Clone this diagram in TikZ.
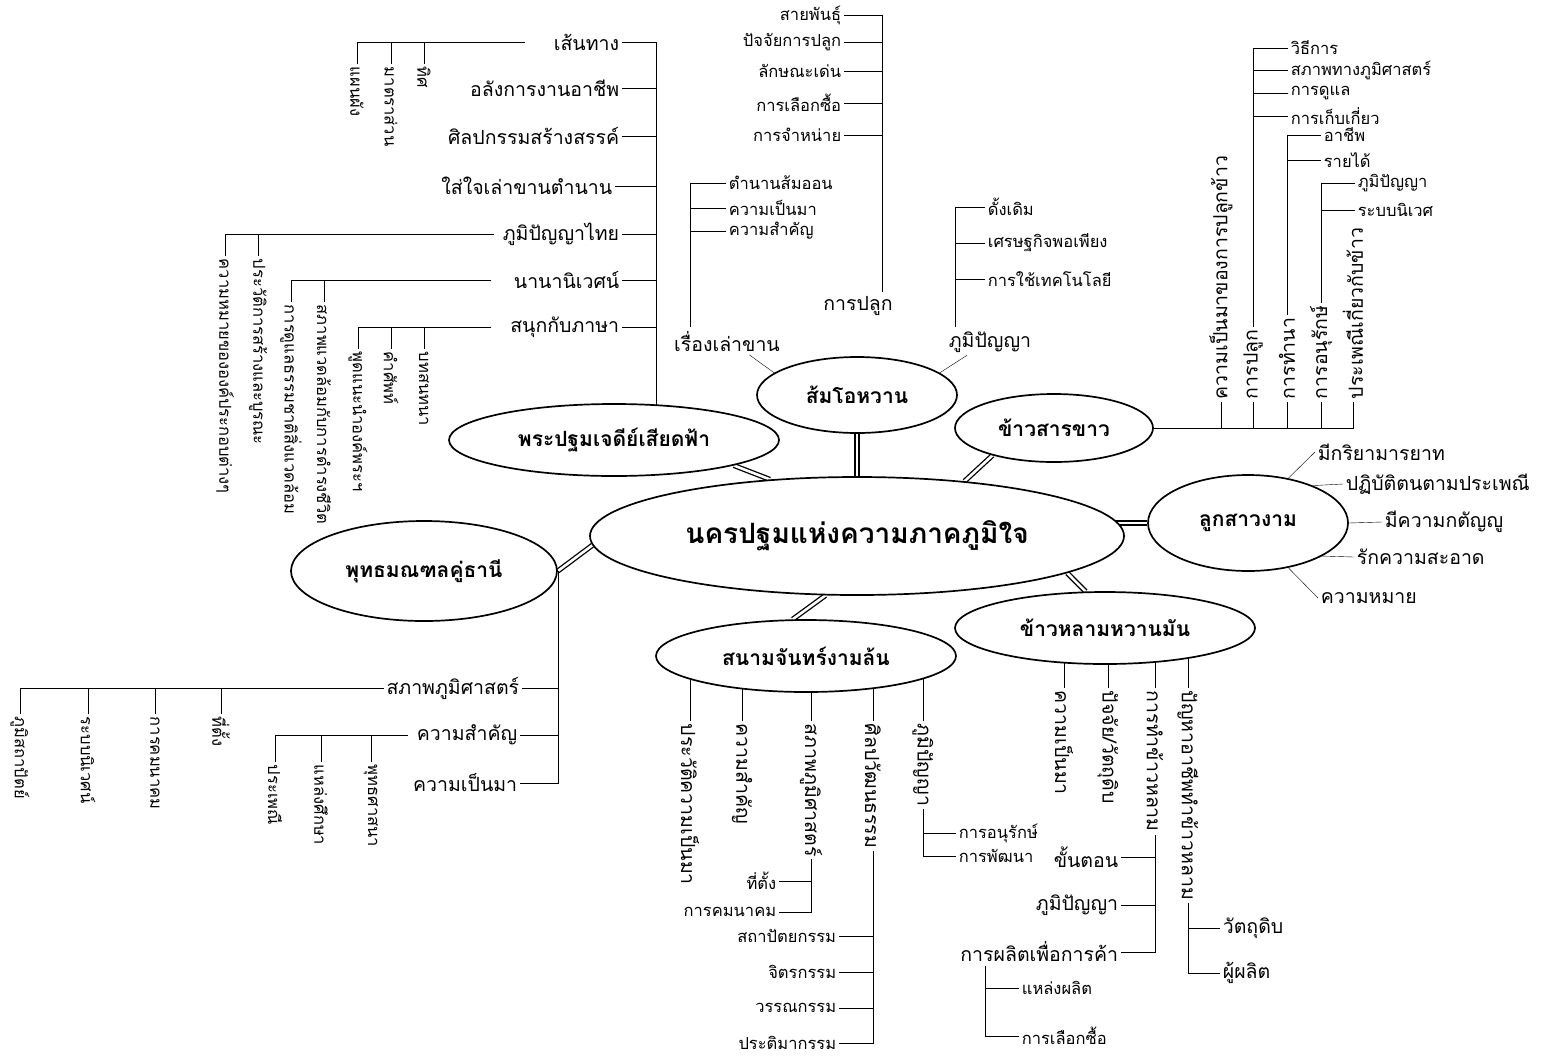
\documentclass[tikz,border=0pt]{standalone}
\usepackage{fontspec}
\setmainfont{Loma}[Script=Thai]
\usetikzlibrary{shapes.geometric}
\pgfdeclarelayer{bg}
\pgfsetlayers{bg,main}

\begin{document}
\begin{tikzpicture}[x=1pt,y=-1pt,line width=1.7pt,
  lbl/.style={font=\fontsize{19.5}{22}\selectfont, inner sep=2pt},
  sml/.style={font=\fontsize{16.5}{19}\selectfont, inner sep=2pt},
  dn/.style={rotate=-90, anchor=west},
  upw/.style={rotate=90, anchor=west},
  topic/.style={ellipse, draw, fill=white, inner sep=0pt,
    font=\fontsize{21}{24}\selectfont\bfseries},
  dbl/.style={double, double distance=2.6pt, line width=1.3pt}]
\useasboundingbox (0,0) rectangle (1546,1058);
% centre and slogan topics
\node[topic, minimum width=534pt, minimum height=118pt, font=\fontsize{28}{32}\selectfont\bfseries] at (857,536) (hub) {นครปฐมแห่งความภาคภูมิใจ};
\node[topic, minimum width=330pt, minimum height=72pt] at (614,440) (chedi) {พระปฐมเจดีย์เสียดฟ้า};
\node[topic, minimum width=200pt, minimum height=76pt] at (857,395) (somo) {ส้มโอหวาน};
\node[topic, minimum width=198pt, minimum height=68pt] at (1054,428) (khaosan) {ข้าวสารขาว};
\node[topic, minimum width=200pt, minimum height=96pt] at (1248,523) (luksao) {ลูกสาวงาม};
\node[topic, minimum width=300pt, minimum height=72pt] at (1105,628) (khaolam) {ข้าวหลามหวานมัน};
\node[topic, minimum width=300pt, minimum height=72pt] at (806,656) (sanam) {สนามจันทร์งามล้น};
\node[topic, minimum width=266pt, minimum height=100pt] at (424,571) (phuttha) {พุทธมณฑลคู่ธานี};

% พระปฐมเจดีย์
\coordinate (chedi-root) at (656,440);
\node[lbl, anchor=east] at (622,42) (sentang) {เส้นทาง};
\node[lbl, anchor=east] at (622,88) (alangkan) {อลังการงานอาชีพ};
\node[lbl, anchor=east] at (622,136) (sinlapa) {ศิลปกรรมสร้างสรรค์};
\node[lbl, anchor=east] at (615,186) (saijai) {ใส่ใจเล่าขานตำนาน};
\node[lbl, anchor=east] at (622,234) (phumithai) {ภูมิปัญญาไทย};
\node[lbl, anchor=east] at (622,280) (nana) {นานานิเวศน์};
\node[lbl, anchor=east] at (622,327) (sanuk) {สนุกกับภาษา};
\node[sml, dn] at (357,64) (phaenphang) {แผนผัง};
\node[sml, dn] at (391,64) (matra) {มาตราส่วน};
\node[sml, dn] at (424,64) (thit) {ทิศ};
\node[sml, dn] at (225,256) (khwammai) {ความหมายขององค์ประกอบต่างๆ};
\node[sml, dn] at (258,256) (prawat) {ประวัติการสร้างและบูรณะ};
\node[sml, dn] at (291,302) (dulae) {การดูแลธรรมชาติสิ่งแวดล้อม};
\node[sml, dn] at (324,302) (sapphaep) {สภาพแวดล้อมกับการดำรงชีวิต};
\node[sml, dn] at (358,349) (phut) {พูดแนะนำองค์พระฯ};
\node[sml, dn] at (391,349) (khamsap) {คำศัพท์};
\node[sml, dn] at (424,349) (bot) {บทสนทนา};

% ส้มโอหวาน
\node[lbl] at (858,306) (plook) {การปลูก};
\coordinate (plook-top) at (882,292);
\node[sml, anchor=east] at (844,15) (saiphan) {สายพันธุ์};
\node[sml, anchor=east] at (844,42) (patjai) {ปัจจัยการปลูก};
\node[sml, anchor=east] at (844,71) (laksana) {ลักษณะเด่น};
\node[sml, anchor=east] at (844,103) (lueaksue) {การเลือกซื้อ};
\node[sml, anchor=east] at (844,135) (jamnai) {การจำหน่าย};
\node[lbl] at (727,342) (rueang) {เรื่องเล่าขาน};
\coordinate (rueang-top) at (690,327);
\node[sml, anchor=west] at (726,183) (tamnan) {ตำนานส้มออน};
\node[sml, anchor=west] at (726,208) (penma) {ความเป็นมา};
\node[sml, anchor=west] at (726,231) (samkhan) {ความสำคัญ};
\node[lbl] at (990,342) (somphumi) {ภูมิปัญญา};
\coordinate (somphumi-top) at (955,327);
\node[sml, anchor=west] at (985,207) (dangdoem) {ดั้งเดิม};
\node[sml, anchor=west] at (985,243) (setthakit) {เศรษฐกิจพอเพียง};
\node[sml, anchor=west] at (985,279) (technology) {การใช้เทคโนโลยี};

% ข้าวสารขาว
\node[lbl, upw] at (1221,402) (kpenma) {ความเป็นมาของการปลูกข้าว};
\node[lbl, upw] at (1253,402) (kplook) {การปลูก};
\node[lbl, upw] at (1287,402) (ktamna) {การทำนา};
\node[lbl, upw] at (1321,402) (kanurak) {การอนุรักษ์};
\node[lbl, upw] at (1353,402) (kprapheni) {ประเพณีเกี่ยวกับข้าว};
\node[sml, anchor=west] at (1288,48) (withikan) {วิธีการ};
\node[sml, anchor=west] at (1288,70) (phumisat) {สภาพทางภูมิศาสตร์};
\node[sml, anchor=west] at (1288,93) (kandulae) {การดูแล};
\node[sml, anchor=west] at (1288,116) (kepkiao) {การเก็บเกี่ยว};
\node[sml, anchor=west] at (1321,135) (achip) {อาชีพ};
\node[sml, anchor=west] at (1321,160) (raidai) {รายได้};
\node[sml, anchor=west] at (1355,183) (kphumi) {ภูมิปัญญา};
\node[sml, anchor=west] at (1355,210) (niwet) {ระบบนิเวศ};

% ลูกสาวงาม
\node[lbl, anchor=west] at (1315,452) (kiriya) {มีกริยามารยาท};
\node[lbl, anchor=west] at (1343,484) (patibat) {ปฏิบัติตนตามประเพณี};
\node[lbl, anchor=west] at (1382,522) (katanyu) {มีความกตัญญู};
\node[lbl, anchor=west] at (1354,557) (sa-at) {รักความสะอาด};
\node[lbl, anchor=west] at (1318,598) (khwammai2) {ความหมาย};

% ข้าวหลามหวานมัน
\node[lbl, dn] at (1064,688) (hpenma) {ความเป็นมา};
\node[lbl, dn] at (1108,688) (hpatjai) {ปัจจัย/วัตถุดิบ};
\node[lbl, dn] at (1155,688) (htham) {การทำข้าวหลาม};
\node[lbl, dn] at (1188,688) (hpanha) {ปัญหาอาชีพทำข้าวหลาม};
\node[lbl, anchor=east] at (1121,857) (khanton) {ขั้นตอน};
\node[lbl, anchor=east] at (1121,905) (hphumi) {ภูมิปัญญา};
\node[lbl, anchor=east] at (1121,952) (kakha) {การผลิตเพื่อการค้า};
\coordinate (kakha-root) at (985,966);
\node[sml, anchor=west] at (1019,988) (laeng) {แหล่งผลิต};
\node[sml, anchor=west] at (1019,1036) (hlueak) {การเลือกซื้อ};
\node[lbl, anchor=west] at (1220,928) (watthudip) {วัตถุดิบ};
\node[lbl, anchor=west] at (1220,973) (phuphalit) {ผู้ผลิต};

% สนามจันทร์งามล้น
\node[lbl, dn] at (690,721) (sprawat) {ประวัติความเป็นมา};
\node[lbl, dn] at (742,721) (ssamkhan) {ความสำคัญ};
\node[lbl, dn] at (811,721) (sphumisat) {สภาพภูมิศาสตร์};
\node[lbl, dn] at (873,721) (ssinlapa) {ศิลปวัฒนธรรม};
\node[lbl, dn] at (923,721) (sphumi) {ภูมิปัญญา};
\node[sml, anchor=east] at (779,881) (thitang) {ที่ตั้ง};
\node[sml, anchor=east] at (779,912) (khamanakhom) {การคมนาคม};
\node[sml, anchor=east] at (839,936) (sathapat) {สถาปัตยกรรม};
\node[sml, anchor=east] at (839,972) (jitra) {จิตรกรรม};
\node[sml, anchor=east] at (839,1008) (wanna) {วรรณกรรม};
\node[sml, anchor=east] at (839,1043) (patima) {ประติมากรรม};
\node[sml, anchor=west] at (956,833) (sanurak) {การอนุรักษ์};
\node[sml, anchor=west] at (956,856) (phatthana) {การพัฒนา};

% พุทธมณฑลคู่ธานี
\node[lbl, anchor=east] at (522,688) (bphumisat) {สภาพภูมิศาสตร์};
\node[lbl, anchor=east] at (520,735) (bsamkhan) {ความสำคัญ};
\node[lbl, anchor=east] at (520,783) (bpenma) {ความเป็นมา};
\node[sml, dn] at (20,714) (sathapattaya) {ภูมิสถาปัตย์};
\node[sml, dn] at (88,714) (bniwet) {ระบบนิเวศน์};
\node[sml, dn] at (155,714) (bkhamana) {การคมนาคม};
\node[sml, dn] at (221,714) (bthitang) {ที่ตั้ง};
\node[sml, dn] at (275,762) (prapheni) {ประเพณี};
\node[sml, dn] at (321,762) (laengsueksa) {แหล่งศึกษา};
\node[sml, dn] at (371,762) (phutthasatsana) {พุทธศาสนา};

\begin{pgfonlayer}{bg}
% double links to the centre
\draw[dbl] (hub.147) -- (chedi.-12);
\draw[dbl] (hub) -- (somo);
\draw[dbl] (hub.27) -- (khaosan.204);
\draw[dbl] (luksao.west) -- (luksao.west -| hub.center);
\draw[dbl] (hub.-10) -- (khaolam.118);
\draw[dbl] (hub.-118) -- (sanam.110);
\draw[dbl] (hub.182) -- (phuttha.east);
% พระปฐมเจดีย์
\foreach \n in {sentang,alangkan,sinlapa,saijai,phumithai,nana,sanuk}
  \draw (\n.east) -| (chedi-root);
\draw[shorten >=26pt] (phaenphang.west) |- (sentang.west);
\foreach \n in {matra,thit} \draw (\n.west) -- (\n.west |- sentang.west);
\draw[shorten >=6pt] (khwammai.west) |- (phumithai.west);
\draw (prawat.west) -- (prawat.west |- phumithai.west);
\draw[shorten >=20pt] (dulae.west) |- (nana.west);
\draw (sapphaep.west) -- (sapphaep.west |- nana.west);
\draw[shorten >=16pt] (phut.west) |- (sanuk.west);
\foreach \n in {khamsap,bot} \draw (\n.west) -- (\n.west |- sanuk.west);
% ส้มโอหวาน
\foreach \n in {saiphan,patjai,laksana,lueaksue,jamnai}
  \draw (\n.east) -| (plook-top);
\foreach \n in {tamnan,penma,samkhan}
  \draw (\n.west) -| (rueang-top);
\foreach \n in {dangdoem,setthakit,technology}
  \draw (\n.west) -| (somphumi-top);
\draw (rueang.-30) -- (somo.165);
\draw (somphumi.-150) -- (somo.15);
% ข้าวสารขาว
\draw (kprapheni.west) |- (khaosan.east);
\foreach \n in {kpenma,kplook,ktamna,kanurak}
  \draw (\n.west) -- (\n.west |- khaosan.east);
\foreach \n in {withikan,phumisat,kandulae,kepkiao}
  \draw (\n.west) -| (kplook.east);
\foreach \n in {achip,raidai} \draw (\n.west) -| (ktamna.east);
\foreach \n in {kphumi,niwet} \draw (\n.west) -| (kanurak.east);
% ลูกสาวงาม
\draw (luksao.48) -- (kiriya.west);
\draw (luksao.30) -- (patibat.west);
\draw (luksao.east) -- (katanyu.west);
\draw (luksao.-24) -- (sa-at.west);
\draw (luksao.-48) -- (khwammai2.west);
% ข้าวหลามหวานมัน
\foreach \n in {hpenma,hpatjai,htham,hpanha}
  \draw (\n.west) -- (\n.west |- khaolam.center);
\foreach \n in {khanton,hphumi,kakha} \draw (\n.east) -| (htham.east);
\foreach \n in {laeng,hlueak} \draw (\n.west) -| (kakha-root);
\foreach \n in {watthudip,phuphalit} \draw (\n.west) -| (hpanha.east);
% สนามจันทร์งามล้น
\foreach \n in {sprawat,ssamkhan,sphumisat,ssinlapa,sphumi}
  \draw (\n.west) -- (\n.west |- sanam.center);
\foreach \n in {thitang,khamanakhom} \draw (\n.east) -| (sphumisat.east);
\foreach \n in {sathapat,jitra,wanna,patima} \draw (\n.east) -| (ssinlapa.east);
\foreach \n in {sanurak,phatthana} \draw (\n.west) -| (sphumi.east);
% พุทธมณฑลคู่ธานี
\foreach \n in {bphumisat,bsamkhan,bpenma} \draw (\n.east) -| (phuttha.east);
\draw (sathapattaya.west) |- (bphumisat.west);
\foreach \n in {bniwet,bkhamana,bthitang} \draw (\n.west) -- (\n.west |- bphumisat.west);
\draw[shorten >=6pt] (prapheni.west) |- (bsamkhan.west);
\foreach \n in {laengsueksa,phutthasatsana} \draw (\n.west) -- (\n.west |- bsamkhan.west);
\end{pgfonlayer}
\end{tikzpicture}
\end{document}
